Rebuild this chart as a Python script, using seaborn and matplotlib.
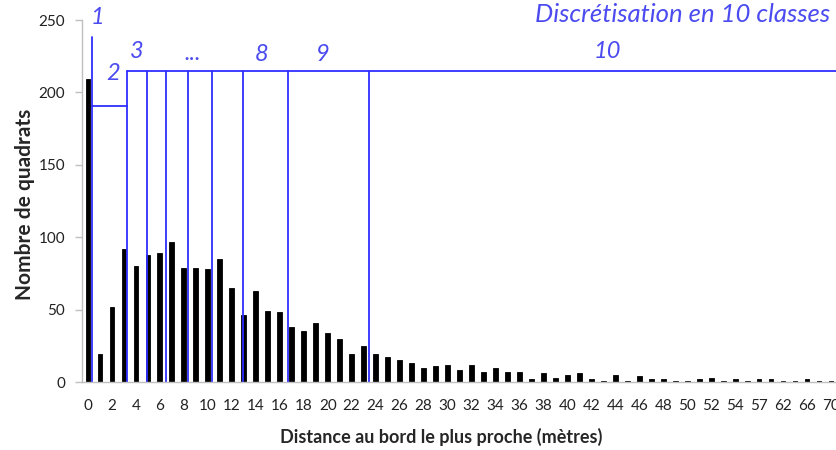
import matplotlib
matplotlib.use("Agg")
import matplotlib.pyplot as plt
import seaborn as sns
import pandas as pd
import numpy as np

# distances (categorical, as on the original axis) and counts
distances = [str(d) for d in range(0, 56)] + ["57", "59", "62", "64", "66", "68", "70"]
counts = [209, 19, 52, 92, 80, 88, 89, 97, 79, 79,
          78, 85, 65, 46, 63, 49, 48, 38, 35, 41,
          34, 30, 19, 25, 19, 17, 15, 13, 10, 11,
          12, 8, 12, 7, 10, 7, 7, 2, 6, 3,
          5, 6, 2, 1, 5, 1, 4, 2, 2, 1,
          1, 2, 3, 1, 2, 1, 2, 2, 1, 1,
          2, 1, 1]

# class breaks (positions on the category axis) and class labels
breaks = [0.36, 3.25, 4.94, 6.53, 8.36, 10.36, 12.97, 16.7, 23.47]
class_labels = ["1", "2", "3", "...", "8", "9", "10"]
class_label_x = [0.75, 2.1, 4.1, 8.7, 14.5, 19.6, 43.3]
class_label_y = [252, 213, 228, 227, 226, 226, 228]

df = pd.DataFrame({"Distance": distances, "Nombre": counts})

sns.set_style("white")
plt.rcParams['font.family'] = ['Lato', 'DejaVu Sans']

blue_line = '#2e2eff'
blue_text = '#4b4bf0'
grey = '#bfbfbf'

fig = plt.figure(figsize=(8.37, 4.5), dpi=100)
ax = fig.add_axes([82 / 837, 1 - 382 / 450, 1 - 82 / 837, (382 - 20) / 450])

sns.barplot(data=df, x="Distance", y="Nombre", order=distances, color='black',
            width=0.4, saturation=1, edgecolor='black', linewidth=0.6, ax=ax)

ax.set_xlim(-0.5, 62.42)
ax.set_ylim(0, 250)
ax.set_yticks([0, 50, 100, 150, 200, 250])

# x labels every other category, tick marks between categories
ax.set_xticks(range(0, len(distances), 2))
ax.set_xticklabels(distances[::2])
ax.set_xticks(np.arange(-0.5, len(distances), 1), minor=True)
ax.tick_params(axis='x', which='major', length=0, pad=12, labelsize=11, colors='#222222')
ax.tick_params(axis='x', which='minor', length=6, color=grey, width=1)
ax.tick_params(axis='y', length=5, color=grey, width=1, pad=7, labelsize=11, labelcolor='#222222')
ax.tick_params(axis='both', bottom=True, left=True)

for s in ['top', 'right']:
    ax.spines[s].set_visible(False)
for s in ['left', 'bottom']:
    ax.spines[s].set_color(grey)
    ax.spines[s].set_linewidth(1)

ax.set_xlabel("Distance au bord le plus proche (mètres)", fontsize=13, fontweight='bold')
ax.set_ylabel("Nombre de quadrats", fontsize=15, fontweight='bold')
ax.xaxis.set_label_coords((441 - 82) / 755, -(437 - 382) / 362)
ax.yaxis.set_label_coords(-(82 - 25) / 755, 0.49)
ax.yaxis.label.set_va('center')
ax.xaxis.label.set_va('center')

# class break lines
lw = 1.3
ax.plot([breaks[0], breaks[0]], [0, 238], color=blue_line, lw=lw, clip_on=False)
ax.plot([breaks[0], breaks[1]], [190.4, 190.4], color=blue_line, lw=lw)
for b in breaks[1:]:
    ax.plot([b, b], [0, 215], color=blue_line, lw=lw)
ax.plot([breaks[1], 62.42], [215, 215], color=blue_line, lw=lw, clip_on=False)

for lab, x, y in zip(class_labels, class_label_x, class_label_y):
    ax.text(x, y, lab, color=blue_text, fontsize=17, style='italic',
            ha='center', va='center', clip_on=False)

fig.text(830 / 837, 1 - 15 / 450, "Discrétisation en 10 classes", color=blue_text,
         fontsize=18.5, style='italic', ha='right', va='center')

fig.savefig("out.png", dpi=100)
